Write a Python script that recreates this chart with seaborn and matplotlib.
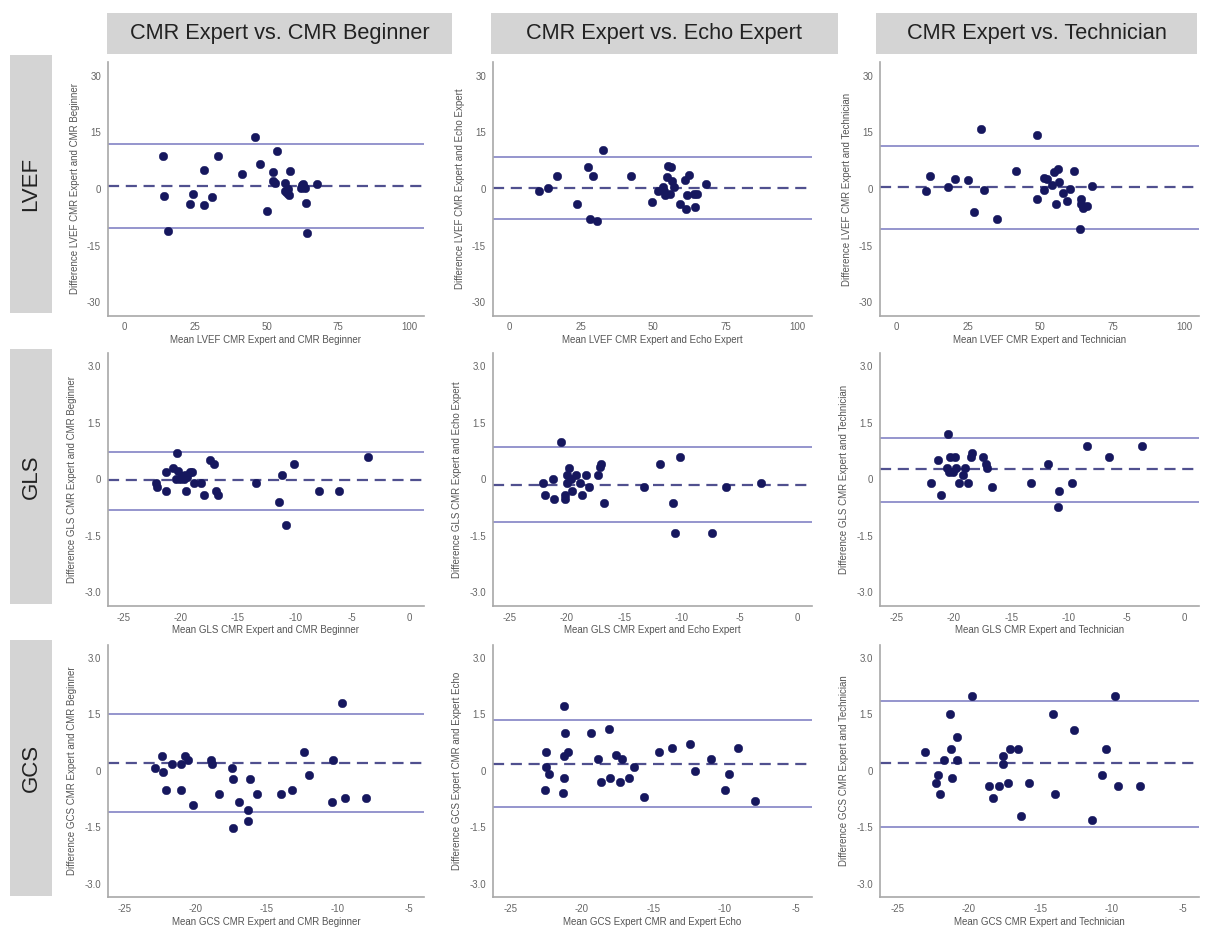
import pandas as pd
import matplotlib.pyplot as plt
import seaborn as sns
from matplotlib.patches import Rectangle

# column / row headers
col_titles = ["CMR Expert vs. CMR Beginner", "CMR Expert vs. Echo Expert", "CMR Expert vs. Technician"]
row_titles = ["LVEF", "GLS", "GCS"]

# LVEF
lvef_beg_mean = [13.5, 14.1, 15.4, 23.1, 24.3, 28.0, 28.0, 30.9, 32.8, 41.4, 45.8, 47.6, 50.2, 52.1, 52.1,
                 52.7, 53.6, 56.3, 56.3, 57.1, 57.5, 57.8, 58.0, 61.8, 62.7, 63.3, 63.8, 64.0, 67.6, 62.2]
lvef_beg_diff = [8.7, -1.9, -11.2, -4.1, -1.3, 5.0, -4.2, -2.2, 8.7, 4.1, 13.7, 6.5, -5.7, 4.6, 2.1,
                 1.7, 10.0, 1.7, -0.4, -1.1, 0.0, -1.5, 4.8, 0.3, 1.4, 0.2, -3.7, -11.6, 1.3, 1.0]
lvef_beg_lines = [11.9, 0.8, -10.2]

lvef_echo_mean = [10.3, 13.3, 16.6, 23.4, 27.3, 28.0, 29.2, 30.4, 32.4, 42.2, 49.5, 51.7, 53.4, 53.6, 54.2,
                  54.8, 55.0, 55.6, 56.1, 56.4, 57.2, 59.2, 61.0, 61.2, 61.5, 62.2, 64.0, 64.6, 65.0, 68.1]
lvef_echo_diff = [-0.6, 0.3, 3.4, -4.0, 5.7, -7.9, 3.4, -8.6, 10.4, 3.4, -3.5, -0.6, 0.6, -0.4, -1.5,
                  3.1, 6.1, -1.3, 5.7, 2.0, 0.6, -4.0, 2.4, -5.3, -1.5, 3.7, -1.2, -4.7, -1.2, 1.3]
lvef_echo_lines = [8.4, 0.35, -8.0]

lvef_tech_mean = [10.4, 11.9, 18.1, 20.4, 25.0, 27.1, 29.4, 30.3, 34.9, 41.5, 48.9, 48.9, 51.2, 51.4, 52.2,
                  54.1, 54.8, 55.3, 56.2, 56.4, 57.8, 59.4, 60.4, 61.5, 64.0, 64.0, 63.9, 64.8, 66.1, 67.9]
lvef_tech_diff = [-0.4, 3.5, 0.6, 2.6, 2.3, -6.1, 15.9, -0.2, -7.9, 4.7, 14.3, -2.6, 2.8, -0.3, 2.6,
                  1.1, 4.4, -4.1, 5.3, 1.9, -1.1, -3.3, 0.1, 4.8, -2.6, -4.1, -10.6, -5.1, -4.4, 0.9]
lvef_tech_lines = [11.4, 0.5, -10.5]

# GLS
gls_beg_mean = [-22.16, -22.07, -21.31, -21.28, -20.70, -20.46, -20.37, -20.23, -20.08, -19.91, -19.76,
                -19.61, -19.56, -19.47, -19.17, -19.0, -18.88, -18.27, -18.0, -17.45, -17.13, -16.95,
                -16.77, -13.44, -11.42, -11.12, -10.77, -10.07, -7.93, -6.12, -3.57]
gls_beg_diff = [-0.11, -0.21, 0.20, -0.31, 0.29, 0.0, 0.69, 0.21, 0.0, 0.09, 0.0,
                0.11, -0.32, 0.05, 0.19, 0.19, -0.11, -0.11, -0.42, 0.51, 0.41, -0.31,
                -0.42, -0.11, -0.61, 0.11, -1.21, 0.40, -0.31, -0.31, 0.60]
gls_beg_lines = [0.73, -0.01, -0.80]

gls_echo_mean = [-22.07, -21.92, -21.19, -21.13, -20.48, -20.19, -20.19, -20.01, -19.96, -19.84, -19.66,
                 -19.52, -19.16, -18.84, -18.67, -18.31, -18.05, -17.26, -17.11, -17.05, -16.79, -13.33,
                 -11.86, -10.78, -10.63, -10.13, -7.35, -6.14, -3.15]
gls_echo_diff = [-0.11, -0.42, 0.0, -0.52, 0.99, -0.42, -0.52, -0.11, 0.11, 0.30, 0.0,
                 -0.31, 0.11, -0.11, -0.42, 0.11, -0.21, 0.11, 0.32, 0.41, -0.62, -0.21,
                 0.40, -0.62, -1.41, 0.60, -1.41, -0.21, -0.11]
gls_echo_lines = [0.85, -0.14, -1.13]

gls_tech_mean = [-21.99, -21.37, -21.14, -20.58, -20.53, -20.44, -20.35, -20.06, -19.91, -19.80, -19.56,
                 -19.15, -18.98, -18.77, -18.54, -18.45, -17.43, -17.22, -17.11, -16.70, -13.33, -11.81,
                 -10.85, -10.96, -9.77, -8.45, -6.49, -3.65]
gls_tech_diff = [-0.11, 0.50, -0.42, 0.30, 1.20, 0.20, 0.60, 0.20, 0.60, 0.30, -0.11,
                 0.11, 0.30, -0.11, 0.60, 0.70, 0.60, 0.41, 0.30, -0.20, -0.11, 0.41,
                 -0.31, -0.72, -0.11, 0.89, 0.60, 0.89]
gls_tech_lines = [1.09, 0.27, -0.60]

# GCS
gcs_beg_mean = [-22.86, -22.39, -22.30, -22.13, -21.69, -21.08, -21.04, -20.78, -20.52, -20.22, -18.94,
                -18.89, -18.40, -17.47, -17.40, -17.35, -16.96, -16.31, -16.35, -16.19, -15.68, -14.00,
                -13.18, -12.34, -12.02, -10.41, -10.34, -9.71, -9.48, -7.96]
gcs_beg_diff = [0.08, 0.39, -0.02, -0.52, 0.19, 0.18, -0.52, 0.39, 0.28, -0.92, 0.28,
                0.19, -0.62, 0.08, -0.22, -1.52, -0.83, -1.03, -1.33, -0.22, -0.62, -0.62,
                -0.52, 0.49, -0.12, -0.82, 0.28, 1.79, -0.72, -0.72]
gcs_beg_lines = [1.50, 0.20, -1.10]

gcs_echo_mean = [-22.59, -22.51, -22.49, -22.28, -21.34, -21.27, -21.25, -21.25, -21.15, -20.99, -19.33,
                 -18.88, -18.67, -18.08, -18.01, -17.62, -17.29, -17.17, -16.70, -16.37, -15.67, -14.59,
                 -13.70, -12.43, -12.10, -10.93, -9.95, -9.71, -9.10, -7.88]
gcs_echo_diff = [-0.50, 0.50, 0.11, -0.09, -0.59, 1.71, 0.40, -0.19, 1.01, 0.50, 1.01,
                 0.31, -0.29, 1.11, -0.19, 0.41, -0.29, 0.31, -0.19, 0.11, -0.70, 0.50,
                 0.60, 0.71, 0.0, 0.31, -0.50, -0.09, 0.60, -0.80]
gcs_echo_lines = [1.34, 0.19, -0.97]

gcs_tech_mean = [-23.03, -22.26, -22.14, -21.98, -21.72, -21.32, -21.27, -21.18, -20.83, -20.83, -19.77,
                 -18.60, -18.32, -17.87, -17.57, -17.57, -17.22, -17.08, -16.56, -16.35, -15.81, -14.12,
                 -13.96, -12.62, -11.40, -10.70, -10.42, -9.74, -9.55, -8.05]
gcs_tech_diff = [0.49, -0.32, -0.11, -0.61, 0.29, 1.50, 0.59, -0.20, 0.90, 0.29, 1.99,
                 -0.41, -0.72, -0.41, 0.39, 0.19, -0.32, 0.59, 0.59, -1.21, -0.32, 1.50,
                 -0.61, 1.09, -1.31, -0.11, 0.59, 1.99, -0.41, -0.41]
gcs_tech_lines = [1.85, 0.20, -1.50]

xlabels = [
    ["Mean LVEF CMR Expert and CMR Beginner", "Mean LVEF CMR Expert and Echo Expert", "Mean LVEF CMR Expert and Technician"],
    ["Mean GLS CMR Expert and CMR Beginner", "Mean GLS CMR Expert and Echo Expert", "Mean GLS CMR Expert and Technician"],
    ["Mean GCS CMR Expert and CMR Beginner", "Mean GCS Expert CMR and Expert Echo", "Mean GCS CMR Expert and Technician"],
]
ylabels = [
    ["Difference LVEF CMR Expert and CMR Beginner", "Difference LVEF CMR Expert and Echo Expert", "Difference LVEF CMR Expert and Technician"],
    ["Difference GLS CMR Expert and CMR Beginner", "Difference GLS CMR Expert and Echo Expert", "Difference GLS CMR Expert and Technician"],
    ["Difference GCS CMR Expert and CMR Beginner", "Difference GCS Expert CMR and Expert Echo", "Difference GCS CMR Expert and Technician"],
]

panels = [
    [(lvef_beg_mean, lvef_beg_diff, lvef_beg_lines), (lvef_echo_mean, lvef_echo_diff, lvef_echo_lines),
     (lvef_tech_mean, lvef_tech_diff, lvef_tech_lines)],
    [(gls_beg_mean, gls_beg_diff, gls_beg_lines), (gls_echo_mean, gls_echo_diff, gls_echo_lines),
     (gls_tech_mean, gls_tech_diff, gls_tech_lines)],
    [(gcs_beg_mean, gcs_beg_diff, gcs_beg_lines), (gcs_echo_mean, gcs_echo_diff, gcs_echo_lines),
     (gcs_tech_mean, gcs_tech_diff, gcs_tech_lines)],
]

xticks = [[0, 25, 50, 75, 100], [-25, -20, -15, -10, -5, 0], [-25, -20, -15, -10, -5]]
xlims = [(-5.6, 105), (-26.4, 1.3), (-26.2, -3.9)]
yticks = [[-30, -15, 0, 15, 30], [-3.0, -1.5, 0, 1.5, 3.0], [-3.0, -1.5, 0, 1.5, 3.0]]
yticklabels = [["-30", "-15", "0", "15", "30"], ["-3.0", "-1.5", "0", "1.5", "3.0"], ["-3.0", "-1.5", "0", "1.5", "3.0"]]
ylims = [(-33.5, 33.5), (-3.35, 3.35), (-3.35, 3.35)]

sns.set_style("white")
plt.rcParams['font.family'] = ['Liberation Sans', 'DejaVu Sans']
plt.rcParams['axes.unicode_minus'] = False

W, H = 1208, 931
fig = plt.figure(figsize=(W / 100, H / 100), dpi=100)

def px_box(x0, y0, x1, y1):
    return [x0 / W, 1 - y1 / H, (x1 - x0) / W, (y1 - y0) / H]

col_px = [(108, 424), (493, 812), (880, 1199)]
row_px = [(62.5, 315.5), (353, 605.7), (644.5, 897)]
head_px = [(107, 452), (491, 838), (876, 1197)]
rowbox_px = [(55, 313), (349, 604), (640, 896)]

gray = "#a8a8a8"
dot_color = "#16175e"

for r in range(3):
    for c in range(3):
        ax = fig.add_axes(px_box(col_px[c][0], row_px[r][0], col_px[c][1], row_px[r][1]))
        mx, dy, lines = panels[r][c]
        df = pd.DataFrame({"mean": mx, "diff": dy})
        ax.axhline(lines[0], color="#8c8cc9", lw=1.3, zorder=1)
        ax.axhline(lines[2], color="#8c8cc9", lw=1.3, zorder=1)
        ax.axhline(lines[1], color="#50508f", lw=1.6, ls=(0, (5, 3)), zorder=1)
        sns.scatterplot(data=df, x="mean", y="diff", ax=ax, color=dot_color, s=38,
                        edgecolor=dot_color, linewidth=0.3, zorder=3)
        ax.set_xlim(*xlims[r])
        ax.set_ylim(*ylims[r])
        ax.set_xticks(xticks[r])
        ax.set_yticks(yticks[r])
        ax.set_yticklabels(yticklabels[r])
        ax.set_xlabel(xlabels[r][c], fontsize=7, color="#555555", labelpad=2)
        ax.set_ylabel(ylabels[r][c], fontsize=7, color="#555555", labelpad=5)
        for side in ["top", "right"]:
            ax.spines[side].set_visible(False)
        for side in ["left", "bottom"]:
            ax.spines[side].set_color(gray)
            ax.spines[side].set_linewidth(1.2)
        ax.tick_params(axis="both", direction="out", length=3, width=0.9, color=gray,
                       labelsize=7, labelcolor="#666666", pad=2)

for c in range(3):
    x0, x1 = head_px[c]
    fig.patches.append(Rectangle((x0 / W, 1 - 54 / H), (x1 - x0) / W, 41 / H,
                                 transform=fig.transFigure, facecolor="#d4d4d4", edgecolor="none"))
    fig.text((x0 + x1) / 2 / W, 1 - 34 / H, col_titles[c], ha="center", va="center",
             fontsize=15.7, color="#222222")

for r in range(3):
    y0, y1 = rowbox_px[r]
    fig.patches.append(Rectangle((10 / W, 1 - y1 / H), 42 / W, (y1 - y0) / H,
                                 transform=fig.transFigure, facecolor="#d4d4d4", edgecolor="none"))
    fig.text(31 / W, 1 - (y0 + y1) / 2 / H, row_titles[r], ha="center", va="center",
             rotation=90, fontsize=16, color="#222222")

fig.savefig("out.png", dpi=100)
